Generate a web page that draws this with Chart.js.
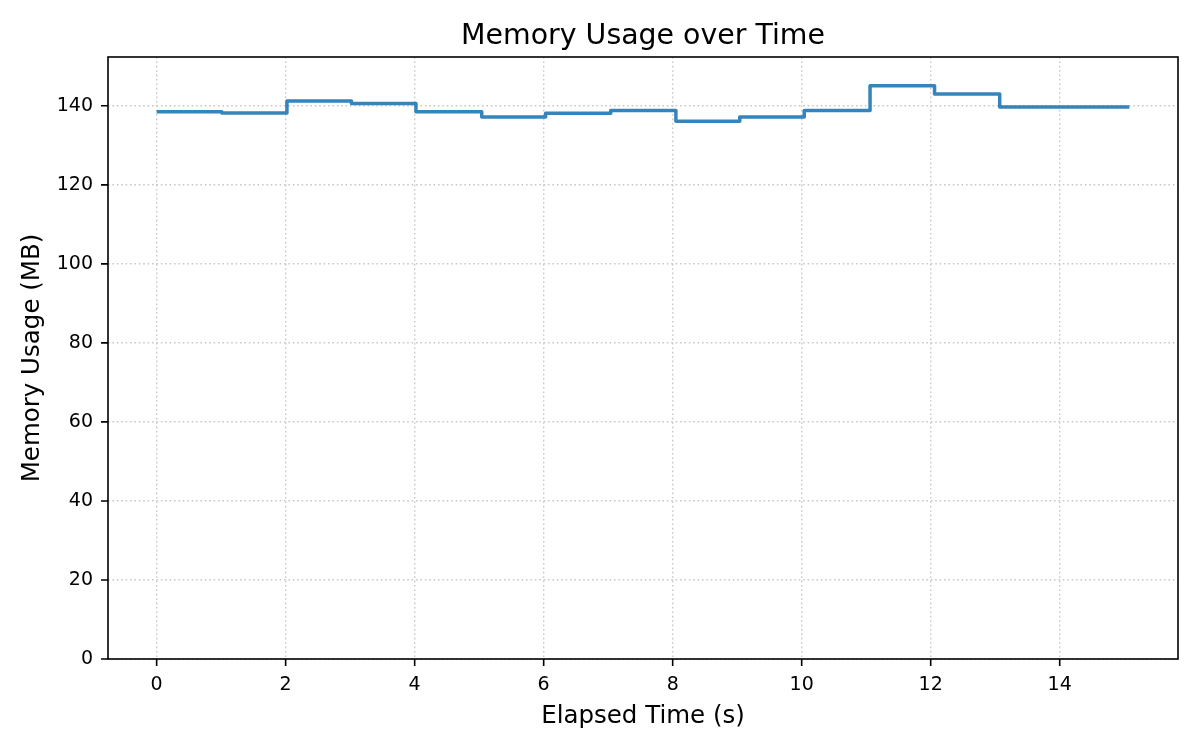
<!DOCTYPE html>
<html>
<head>
<meta charset="utf-8">
<title>Memory Usage over Time</title>
<script src="https://cdn.jsdelivr.net/npm/chart.js@4.4.0/dist/chart.umd.min.js"></script>
<style>
  body { margin: 0; background: #ffffff; }
  #wrap { width: 1200px; height: 750px; }
</style>
</head>
<body>
<div id="wrap"><canvas id="memChart" width="1200" height="750"></canvas></div>
<script>
// data
const elapsedTimes = [0, 1.01, 2.02, 3.02, 4.02, 5.04, 6.03, 7.04, 8.05, 9.04, 10.04, 11.06, 12.06, 13.07, 14.08, 15.08];
const memoryUsage = [138.5, 138.2, 141.2, 140.6, 138.5, 137.2, 138.1, 138.8, 136.1, 137.2, 138.8, 145.1, 143.0, 139.7, 139.7, 139.7];
const xTicks = [0, 2, 4, 6, 8, 10, 12, 14];
const yTicks = [0, 20, 40, 60, 80, 100, 120, 140];
const chartTitle = "Memory Usage over Time";

document.addEventListener("DOMContentLoaded", function () {

  const fontFamily = "'DejaVu Sans', sans-serif";
  const xSpan = elapsedTimes[elapsedTimes.length - 1] - elapsedTimes[0];
  const xMin = elapsedTimes[0] - 0.05 * xSpan;
  const xMax = elapsedTimes[elapsedTimes.length - 1] + 0.05 * xSpan;
  const yMax = Math.max(...memoryUsage) * 1.05;

  // black frame, outward tick marks and a title centred on the plot area
  const framePlugin = {
    id: "frame",
    afterDraw(chart) {
      const ctx = chart.ctx;
      const area = chart.chartArea;
      const xScale = chart.scales.x;
      const yScale = chart.scales.y;
      ctx.save();
      ctx.strokeStyle = "#000000";
      ctx.lineWidth = 1.6;
      ctx.strokeRect(area.left, area.top, area.right - area.left, area.bottom - area.top);
      ctx.beginPath();
      xTicks.forEach(function (t) {
        const px = xScale.getPixelForValue(t);
        ctx.moveTo(px, area.bottom);
        ctx.lineTo(px, area.bottom + 7);
      });
      yTicks.forEach(function (t) {
        const py = yScale.getPixelForValue(t);
        ctx.moveTo(area.left, py);
        ctx.lineTo(area.left - 7, py);
      });
      ctx.stroke();

      ctx.fillStyle = "#000000";
      ctx.font = "28.4px " + fontFamily;
      ctx.textAlign = "center";
      ctx.textBaseline = "alphabetic";
      ctx.fillText(chartTitle, (area.left + area.right) / 2, 44);
      ctx.restore();
    }
  };

  const ctx = document.getElementById("memChart").getContext("2d");
  new Chart(ctx, {
    type: "line",
    data: {
      datasets: [
        {
          label: "Memory",
          data: elapsedTimes.map((t, i) => ({ x: t, y: memoryUsage[i] })),
          borderColor: "rgba(31, 119, 180, 0.9)",
          borderWidth: 3.5,
          borderJoinStyle: "round",
          borderCapStyle: "butt",
          stepped: "before",
          pointRadius: 0,
          fill: false,
        },
      ],
    },
    options: {
      responsive: false,
      animation: false,
      devicePixelRatio: 1,
      layout: { padding: { left: 0, right: 22, top: 57, bottom: 0 } },
      scales: {
        x: {
          type: "linear",
          min: xMin,
          max: xMax,
          afterBuildTicks: function (scale) {
            scale.ticks = xTicks.map(v => ({ value: v }));
          },
          afterFit: function (scale) {
            scale.height = 91;
          },
          grid: {
            color: "#c8c8c8",
            lineWidth: 1.4,
            drawTicks: false,
          },
          border: { display: false, dash: [1.6, 2.8] },
          ticks: {
            color: "#000000",
            padding: 15,
            maxRotation: 0,
            font: { family: fontFamily, size: 19 },
            callback: v => String(v),
          },
          title: {
            display: true,
            text: "Elapsed Time (s)",
            color: "#000000",
            font: { family: fontFamily, size: 24.5 },
            padding: { top: 0, bottom: 19 },
          },
        },
        y: {
          type: "linear",
          min: 0,
          max: yMax,
          afterBuildTicks: function (scale) {
            scale.ticks = yTicks.map(v => ({ value: v }));
          },
          afterFit: function (scale) {
            scale.width = 108;
          },
          grid: {
            color: "#c8c8c8",
            lineWidth: 1.4,
            drawTicks: false,
          },
          border: { display: false, dash: [1.6, 2.8] },
          ticks: {
            color: "#000000",
            padding: 15,
            font: { family: fontFamily, size: 19 },
            callback: v => String(v),
          },
          title: {
            display: true,
            text: "Memory Usage (MB)",
            color: "#000000",
            font: { family: fontFamily, size: 24.5 },
            padding: { top: 18, bottom: 0 },
          },
        },
      },
      plugins: {
        legend: { display: false },
        tooltip: { enabled: false },
        title: { display: false },
      },
    },
    plugins: [framePlugin],
  });
});
</script>
</body>
</html>
